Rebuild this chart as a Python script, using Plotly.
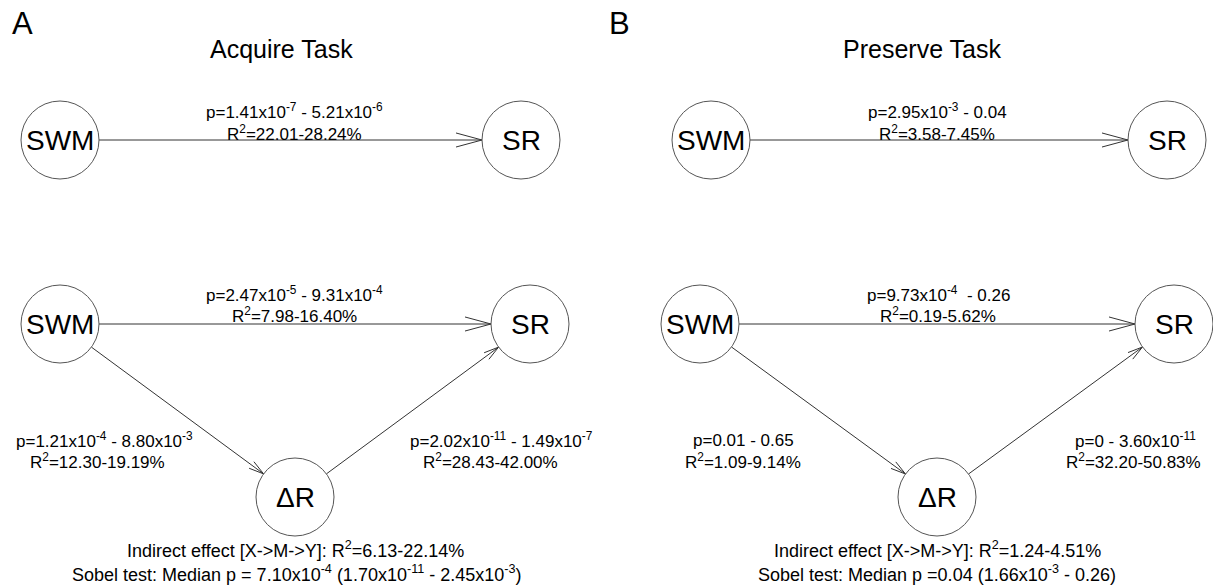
import math
import plotly.graph_objects as go

W, H = 1213, 588

# ---- data ----
panel_letters = ["A", "B"]
panel_titles = ["Acquire Task", "Preserve Task"]

node_labels = ["SWM", "SR", "SWM", "SR", "ΔR", "SWM", "SR", "SWM", "SR", "ΔR"]
node_x = [60, 521, 60, 530, 295, 711, 1167, 700, 1174, 937]
node_y = [140, 140, 324, 324, 497, 140, 140, 324, 324, 497]
node_r = 39

edge_from = [0, 2, 2, 4, 5, 7, 7, 9]
edge_to = [1, 3, 4, 3, 6, 8, 9, 8]
edge_head = [26, 26, 15, 15, 26, 26, 15, 15]

edge_texts = [
    "p=1.41x10<sup>-7</sup> - 5.21x10<sup>-6</sup>",
    "R<sup>2</sup>=22.01-28.24%",
    "p=2.47x10<sup>-5</sup> - 9.31x10<sup>-4</sup>",
    "R<sup>2</sup>=7.98-16.40%",
    "p=1.21x10<sup>-4</sup> - 8.80x10<sup>-3</sup>",
    "R<sup>2</sup>=12.30-19.19%",
    "p=2.02x10<sup>-11</sup> - 1.49x10<sup>-7</sup>",
    "R<sup>2</sup>=28.43-42.00%",
    "p=2.95x10<sup>-3</sup> - 0.04",
    "R<sup>2</sup>=3.58-7.45%",
    "p=9.73x10<sup>-4</sup>  - 0.26",
    "R<sup>2</sup>=0.19-5.62%",
    "p=0.01 - 0.65",
    "R<sup>2</sup>=1.09-9.14%",
    "p=0 - 3.60x10<sup>-11</sup>",
    "R<sup>2</sup>=32.20-50.83%",
]
summary_texts = [
    "Indirect effect [X->M->Y]: R<sup>2</sup>=6.13-22.14%",
    "Sobel test: Median p = 7.10x10<sup>-4</sup> (1.70x10<sup>-11</sup> - 2.45x10<sup>-3</sup>)",
    "Indirect effect [X->M->Y]: R<sup>2</sup>=1.24-4.51%",
    "Sobel test: Median p =0.04 (1.66x10<sup>-3</sup> - 0.26)",
]
# ---- layout positions ----
text_pos = [
    (294, 111), (294, 133), (294, 294), (294, 315),
    (104, 440), (97, 461), (501, 440), (490, 461),
    (937, 111), (937, 133), (938, 294), (938, 315),
    (743, 440), (743, 461), (1135, 440), (1133, 461),
]
summary_pos = [(295, 549), (296, 573), (937, 549), (937, 573)]
letter_pos = [(22, 23), (619, 23)]
title_pos = [(281, 49), (922, 49)]

FONT = "Liberation Sans, Arial, sans-serif"
LINE = "#333333"

fig = go.Figure()

# edges
for a, b, hl in zip(edge_from, edge_to, edge_head):
    ax, ay, bx, by = node_x[a], node_y[a], node_x[b], node_y[b]
    d = math.hypot(bx - ax, by - ay)
    ux, uy = (bx - ax) / d, (by - ay) / d
    sx, sy = ax + ux * node_r, ay + uy * node_r
    ex, ey = bx - ux * node_r, by - uy * node_r
    fig.add_trace(go.Scatter(x=[sx, ex], y=[sy, ey], mode="lines",
                             line=dict(color=LINE, width=1), hoverinfo="skip", showlegend=False))
    hw = hl * 0.27
    nx, ny = -uy, ux
    wx, wy = ex - ux * hl, ey - uy * hl
    fig.add_trace(go.Scatter(x=[wx + nx * hw, ex, wx - nx * hw], y=[wy + ny * hw, ey, wy - ny * hw],
                             mode="lines", line=dict(color=LINE, width=1),
                             hoverinfo="skip", showlegend=False))

shapes = []
for x, y in zip(node_x, node_y):
    shapes.append(dict(type="circle", xref="x", yref="y", x0=x - node_r, x1=x + node_r,
                       y0=y - node_r, y1=y + node_r, line=dict(color="#555555", width=1),
                       fillcolor="white", layer="above"))

ann = []
for lab, x, y in zip(node_labels, node_x, node_y):
    ann.append(dict(x=x, y=y, text=lab, showarrow=False, xanchor="center", yanchor="middle",
                    font=dict(family=FONT, size=28, color="black")))
for t, (x, y) in zip(edge_texts, text_pos):
    ann.append(dict(x=x, y=y, text=t, showarrow=False, xanchor="center", yanchor="middle",
                    font=dict(family=FONT, size=17, color="black")))
for t, (x, y) in zip(summary_texts, summary_pos):
    ann.append(dict(x=x, y=y, text=t, showarrow=False, xanchor="center", yanchor="middle",
                    font=dict(family=FONT, size=18, color="black")))
for t, (x, y) in zip(panel_letters, letter_pos):
    ann.append(dict(x=x, y=y, text=t, showarrow=False, xanchor="center", yanchor="middle",
                    font=dict(family=FONT, size=31, color="black")))
for t, (x, y) in zip(panel_titles, title_pos):
    ann.append(dict(x=x, y=y, text=t, showarrow=False, xanchor="center", yanchor="middle",
                    font=dict(family=FONT, size=25, color="black")))

fig.update_layout(
    width=W, height=H, margin=dict(l=0, r=0, t=0, b=0),
    paper_bgcolor="white", plot_bgcolor="white",
    xaxis=dict(range=[0, W], visible=False, fixedrange=True),
    yaxis=dict(range=[H, 0], visible=False, fixedrange=True),
    shapes=shapes, annotations=ann,
)
fig.write_html("out.html", config={"displayModeBar": False},
               post_script="document.body.style.margin='0';document.body.style.overflow='hidden';")
